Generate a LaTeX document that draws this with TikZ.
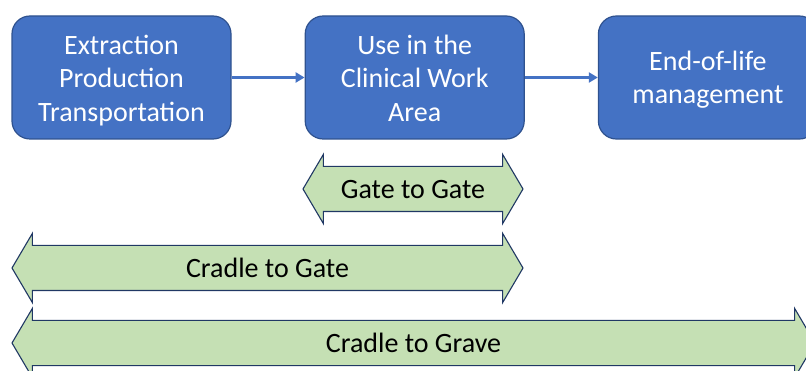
\documentclass[tikz,border=0pt]{standalone}
\usepackage{fontspec}
\setmainfont{Carlito}
\usetikzlibrary{shapes.arrows, positioning, arrows.meta}
\definecolor{boxblue}{HTML}{4472C4}
\definecolor{boxline}{HTML}{2F528F}
\definecolor{spangreen}{HTML}{C5E0B4}
\definecolor{spanline}{HTML}{203864}

\begin{document}
\begin{tikzpicture}[x=1pt, y=-1pt]
	\tikzstyle{stage}=[rectangle, rounded corners=18pt, draw=boxline,
		line width=1.2pt, fill=boxblue, text=white, minimum width=219pt,
		minimum height=123pt, align=center, text depth=0pt,
		font=\fontsize{28}{33.5}\selectfont]
	\tikzstyle{span}=[double arrow, draw=spanline, line width=1.1pt,
		fill=spangreen, double arrow head extend=12pt,
		double arrow tip angle=119, text height=21.7pt, text depth=3.3pt,
		inner ysep=9.5pt, inner xsep=0pt, font=\fontsize{28}{33.5}\selectfont]
	\tikzstyle{flow}=[-{Triangle[length=9pt, width=10pt]}, line width=3pt,
		draw=boxblue]

	\useasboundingbox (0,0) rectangle (806,371);
	\clip (0,0) rectangle (806,371);

	\node[stage, text height=87.2pt] (source) at (121.5,77.5)
		{Extraction\\Production\\Transportation};
	\node[stage, text height=87.2pt, right=73pt of source] (use)
		{Use in the\\Clinical Work\\Area};
	\node[stage, text height=52.5pt, right=73pt of use] (eol)
		{End-of-life\\management};

	\draw[flow] (source) -- (use);
	\draw[flow] (use) -- (eol);

	\node[span, minimum height=220pt] (gatetogate) at (413,189) {Gate to Gate};
	\node[span, minimum height=511pt] (cradletogate) at (267.5,268) {Cradle to Gate};
	\node[span, minimum height=803pt] (cradletograve) at (413.5,343) {Cradle to Grave};
\end{tikzpicture}
\end{document}
